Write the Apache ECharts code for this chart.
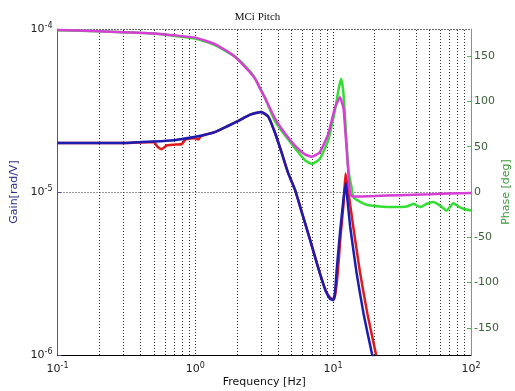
<!DOCTYPE html>
<html>
<head>
<meta charset="utf-8">
<script src="https://cdn.jsdelivr.net/npm/echarts@6/dist/echarts.min.js"></script>
<style>html,body{margin:0;padding:0;background:#fff;}#c{width:515px;height:391px;}</style>
</head>
<body>
<div id="c"></div>
<script>
// ---- Data ----
const blueFreq = [0.1, 0.2, 0.3, 0.5, 0.7, 1.0, 1.4, 2.0, 2.5, 3.0, 3.38, 3.79, 4.24, 4.71, 5.29, 6.0, 6.8, 7.64, 8.3, 8.88, 9.49, 10.0, 10.3, 10.6, 11.2, 11.86, 12.36, 12.7, 13.3, 14.8, 16.6, 19.1, 19.6];
const blueGain = [2.0e-5, 2.0e-5, 2.0e-5, 2.04e-5, 2.08e-5, 2.18e-5, 2.34e-5, 2.7e-5, 2.98e-5, 3.1e-5, 2.9e-5, 2.3e-5, 1.73e-5, 1.31e-5, 1.03e-5, 7.23e-6, 5.08e-6, 3.62e-6, 2.88e-6, 2.44e-6, 2.21e-6, 2.17e-6, 2.4e-6, 3.3e-6, 5.6e-6, 8.9e-6, 1.13e-5, 8.9e-6, 6.1e-6, 3.17e-6, 1.8e-6, 1.02e-6, 0.97e-6];

const redFreq = [0.1, 0.2, 0.3, 0.5, 0.53, 0.57, 0.62, 0.7, 0.8, 0.85, 1.0, 1.05, 1.1, 1.4, 2.0, 2.5, 3.0, 3.38, 3.79, 4.24, 4.71, 5.29, 6.0, 6.8, 7.64, 8.3, 8.88, 9.49, 10.1, 10.4, 10.8, 11.3, 11.9, 12.3, 12.7, 14.0, 15.7, 17.7, 20.5];
const redGain = [2.0e-5, 2.0e-5, 2.0e-5, 2.03e-5, 1.9e-5, 1.83e-5, 1.93e-5, 1.95e-5, 1.97e-5, 2.1e-5, 2.14e-5, 2.1e-5, 2.2e-5, 2.34e-5, 2.7e-5, 2.98e-5, 3.1e-5, 2.9e-5, 2.3e-5, 1.73e-5, 1.31e-5, 1.03e-5, 7.23e-6, 5.08e-6, 3.62e-6, 2.88e-6, 2.46e-6, 2.25e-6, 2.2e-6, 2.4e-6, 3.2e-6, 5.3e-6, 8.5e-6, 1.3e-5, 1.1e-5, 6.1e-6, 3.17e-6, 1.8e-6, 1.0e-6];

const greenFreq = [0.1, 0.2, 0.3, 0.5, 0.7, 1.0, 1.4, 2.0, 2.5, 2.74, 3.2, 3.79, 4.5, 5.3, 6.25, 7.0, 8.0, 9.2, 10.3, 10.6, 11.0, 11.4, 11.8, 12.1, 12.9, 13.6, 14.0, 15.7, 17.5, 21.9, 27.4, 34.2, 38.3, 42.8, 47.8, 53.4, 59.6, 66.6, 74.5, 81, 88, 100];
const greenPhase = [178.5, 177.5, 176.5, 175, 172.5, 169.5, 162, 148, 133, 124, 104, 78, 62, 48, 35, 31, 36.5, 57, 90, 101, 115, 125, 113, 90, 24, 5, -5.7, -11, -14, -16, -16.7, -16, -13, -16.7, -13, -11, -15, -20.5, -12.3, -16, -18.5, -20.5];

const magentaFreq = [0.1, 0.2, 0.3, 0.5, 0.7, 1.0, 1.4, 1.9, 2.5, 2.74, 2.95, 3.2, 3.79, 4.5, 5.3, 6.25, 7.0, 8.0, 9.2, 10.3, 11.2, 11.9, 12.2, 12.7, 13.25, 13.8, 15, 20, 30, 50, 100];
const magentaPhase = [179, 177.5, 176.5, 175, 173, 170.5, 163, 150.5, 132, 124, 114, 104, 81, 64, 51, 41.5, 39, 44, 64, 93, 104.5, 92, 71, 35, -1.7, -5, -5, -4.5, -3.5, -2.5, -1];

const xTicks = [0.1, 1, 10, 100];
const gainTicks = [1e-6, 1e-5, 1e-4];
const phaseTicks = [-150, -100, -50, 0, 50, 100, 150];
const minorMult = [2, 3, 4, 5, 6, 7, 8, 9];

// ---- Build ----
const zip = (a, b) => a.map((v, i) => [v, b[i]]);
const supLabel = v => '{b|10}{s|' + Math.round(Math.log10(v)) + '}';
const gridStyle = { color: '#333', type: [1, 2], width: 1 };

const minorLines = [];
[0.1, 1, 10].forEach(d => minorMult.forEach(m => minorLines.push({ xAxis: +(d * m).toPrecision(3) })));
[1e-6, 1e-5].forEach(d => minorMult.forEach(m => minorLines.push({ yAxis: +(d * m).toPrecision(3) })));

const font = 'DejaVu Sans';
const rich = {
  b: { fontSize: 11, fontFamily: font, color: '#222', lineHeight: 14 },
  s: { fontSize: 8, fontFamily: font, color: '#222', verticalAlign: 'top', lineHeight: 14, padding: [0, 0, 6, 0] }
};

const chart = echarts.init(document.getElementById('c'), null, { renderer: 'canvas' });
chart.setOption({
  animation: false,
  backgroundColor: '#fff',
  title: {
    text: 'MCi Pitch', left: 'center', top: 7,
    textStyle: { fontFamily: 'Liberation Serif', fontSize: 11, fontWeight: 'normal', color: '#111' }
  },
  grid: { left: 57.5, right: 44, top: 29, bottom: 36, containLabel: false, outerBoundsMode: 'none' },
  xAxis: {
    type: 'log', logBase: 10, min: 0.1, max: 100,
    name: 'Frequency [Hz]', nameLocation: 'middle', nameGap: 22, nameMoveOverlap: false,
    nameTextStyle: { fontFamily: font, fontSize: 11, color: '#111' },
    axisLine: { onZero: false, lineStyle: { color: '#000', width: 1 } },
    axisTick: { show: false },
    axisLabel: { formatter: supLabel, rich: rich, margin: 7 },
    splitLine: { show: true, lineStyle: gridStyle }
  },
  yAxis: [{
    type: 'log', logBase: 10, min: 1e-6, max: 1e-4,
    name: 'Gain[rad/V]', nameLocation: 'middle', nameGap: 38, nameMoveOverlap: false,
    nameTextStyle: { fontFamily: font, fontSize: 11, color: '#2d2d8a' },
    axisLine: { show: true, onZero: false, lineStyle: { color: '#5252a0', width: 1 } },
    axisTick: { show: true, inside: true, length: 4, lineStyle: { color: '#5252a0' } },
    axisLabel: { formatter: supLabel, rich: rich, margin: 5 },
    splitLine: { show: true, lineStyle: gridStyle }
  }, {
    type: 'value', min: -180, max: 180, position: 'right',
    name: 'Phase [deg]', nameLocation: 'middle', nameGap: 30, nameRotate: 90, nameMoveOverlap: false,
    nameTextStyle: { fontFamily: font, fontSize: 11, color: '#3f9a3f' },
    axisLine: { show: true, onZero: false, lineStyle: { color: '#4cbb4c', width: 1 } },
    axisTick: { show: true, inside: true, length: 4, customValues: phaseTicks, lineStyle: { color: '#4cbb4c' } },
    axisLabel: { customValues: phaseTicks, fontFamily: font, fontSize: 11, color: '#3b5f3b', margin: 3 },
    splitLine: { show: false }
  }],
  series: [{
    type: 'line', name: 'gainRed', data: zip(redFreq, redGain), xAxisIndex: 0, yAxisIndex: 0,
    showSymbol: false, smooth: 0.15, lineStyle: { color: '#e01a1a', width: 2.5 }, z: 3
  }, {
    type: 'line', name: 'gainBlue', data: zip(blueFreq, blueGain), xAxisIndex: 0, yAxisIndex: 0,
    showSymbol: false, smooth: 0.15, lineStyle: { color: '#1c1cb0', width: 2.5 }, z: 4,
    markLine: { silent: true, symbol: 'none', label: { show: false }, lineStyle: gridStyle, data: minorLines, z: 1 }
  }, {
    type: 'line', name: 'phaseGreen', data: zip(greenFreq, greenPhase), xAxisIndex: 0, yAxisIndex: 1,
    showSymbol: false, smooth: 0.15, lineStyle: { color: '#33dd33', width: 2.5 }, z: 5
  }, {
    type: 'line', name: 'phaseMagenta', data: zip(magentaFreq, magentaPhase), xAxisIndex: 0, yAxisIndex: 1,
    showSymbol: false, smooth: 0.15, lineStyle: { color: '#d63ed6', width: 2.5 }, z: 6
  }]
});
</script>
</body>
</html>
